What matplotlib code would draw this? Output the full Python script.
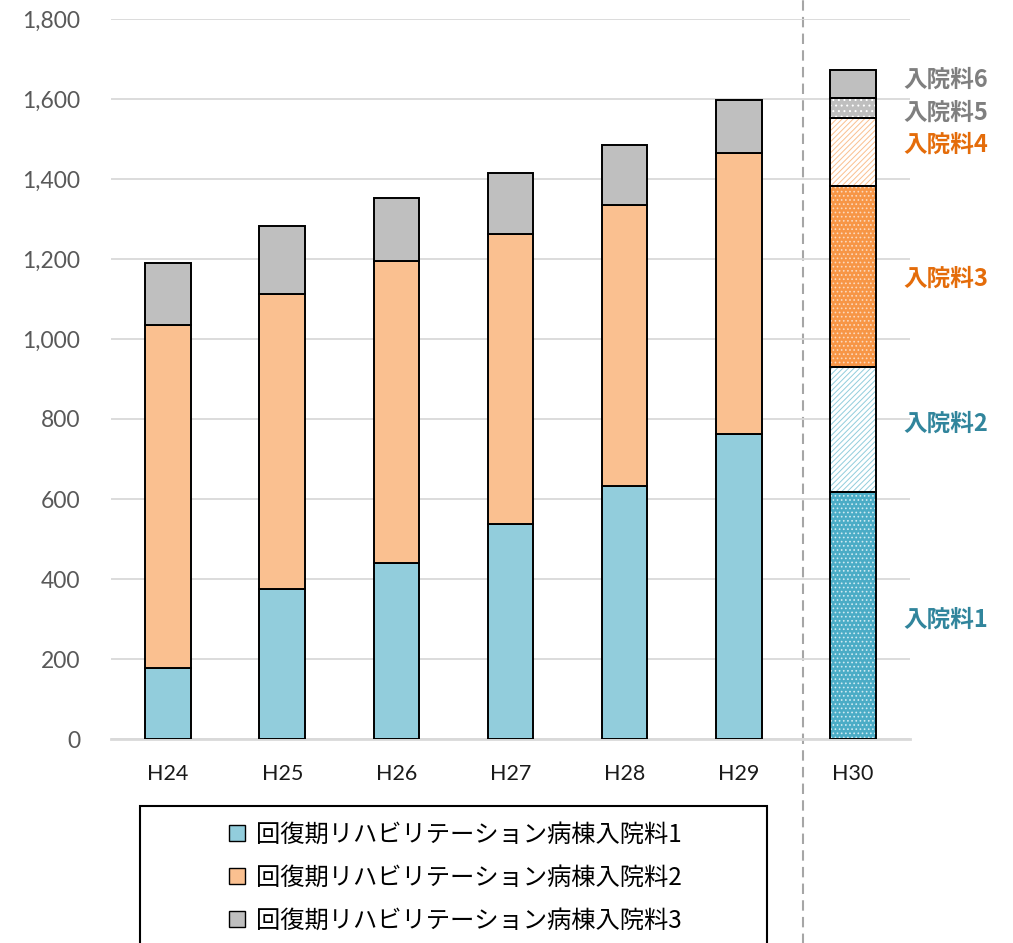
import matplotlib.pyplot as plt
import numpy as np
from matplotlib.patches import Patch, Rectangle

plt.rcParams['font.family'] = ['Noto Sans CJK JP', 'DejaVu Sans']

# ---- data -------------------------------------------------------------
years = ['H24', 'H25', 'H26', 'H27', 'H28', 'H29', 'H30']
fee1 = [178, 375, 440, 538, 633, 763]
fee2 = [857, 738, 755, 725, 702, 702]
fee3 = [155, 170, 158, 152, 150, 133]

h30_labels = ['入院料1', '入院料2', '入院料3', '入院料4', '入院料5', '入院料6']
h30_values = [618, 312, 453, 170, 50, 70]

legend_labels = ['回復期リハビリテーション病棟入院料1',
                 '回復期リハビリテーション病棟入院料2',
                 '回復期リハビリテーション病棟入院料3']
yticks = [0, 200, 400, 600, 800, 1000, 1200, 1400, 1600, 1800]

# ---- styles -----------------------------------------------------------
c_blue, c_orange, c_gray = '#92CDDC', '#FAC090', '#BFBFBF'
# (face, hatch, hatch colour, label colour) for each H30 segment
h30_styles = [
    ('#4BACC6', '....', '#CFEAF2', '#31859C'),
    ('white', '//////', '#92CDDC', '#31859C'),
    ('#F79646', '....', '#FBD9BE', '#E46C0A'),
    ('white', '//////', '#FAC090', '#E46C0A'),
    ('#BFBFBF', '...', 'white', '#7F7F7F'),
    ('#BFBFBF', None, None, '#7F7F7F'),
]
label_offsets = [-12, 13, -5, 18, -12, 10]
bar_w = 0.4
edge_lw = 1.4
plt.rcParams['hatch.linewidth'] = 0.7

fig = plt.figure(figsize=(10.13, 9.43), dpi=100)
ax = fig.add_axes([0.1096, 0.2163, 0.7887, 0.7636])

x = np.arange(len(years))
xh = x[:-1]
b2 = np.array(fee1)
b3 = b2 + np.array(fee2)
ax.bar(xh, fee1, bar_w, color=c_blue, edgecolor='black', linewidth=edge_lw, zorder=3)
ax.bar(xh, fee2, bar_w, bottom=b2, color=c_orange, edgecolor='black', linewidth=edge_lw, zorder=3)
ax.bar(xh, fee3, bar_w, bottom=b3, color=c_gray, edgecolor='black', linewidth=edge_lw, zorder=3)

# H30 stacked segments with patterned fills
bottom = 0
x30 = x[-1]
for val, lab, (face, hatch, hcol, tcol), off in zip(h30_values, h30_labels, h30_styles, label_offsets):
    ax.bar(x30, val, bar_w, bottom=bottom, color=face, hatch=hatch,
           edgecolor=hcol if hcol else face, linewidth=0, zorder=3)
    ax.bar(x30, val, bar_w, bottom=bottom, facecolor='none',
           edgecolor='black', linewidth=edge_lw, zorder=4)
    ax.text(x30 + 0.44, bottom + val / 2 + off, lab, color=tcol, fontsize=17,
            fontweight='bold', ha='left', va='center', clip_on=False)
    bottom += val

ax.set_xlim(-0.5, 6.5)
ax.set_ylim(0, 1800)
ax.set_yticks(yticks)
ax.set_yticklabels([f'{v:,}' for v in yticks])
ax.set_xticks(x)
ax.set_xticklabels(years)
ax.grid(axis='y', color='#D9D9D9', linewidth=1.3, zorder=0)
for s in ['top', 'right', 'left']:
    ax.spines[s].set_visible(False)
ax.spines['bottom'].set_color('#D9D9D9')
ax.spines['bottom'].set_linewidth(2)
ax.tick_params(axis='both', length=0)
ax.tick_params(axis='y', pad=22, labelsize=16.5, labelcolor='#595959')
ax.tick_params(axis='x', pad=18, labelsize=15.5, labelcolor='#1A1A1A')
for t in ax.get_yticklabels() + ax.get_xticklabels():
    t.set_fontfamily(['Lato', 'DejaVu Sans'])

# dashed separator before H30
ax.axvline(5.56, ymin=-0.285, ymax=1.03, color='#A6A6A6', linestyle=(0, (5, 3)),
           linewidth=1.5, clip_on=False, zorder=1)

# legend
handles = [Patch(facecolor=c, edgecolor='black', linewidth=1.0) for c in (c_blue, c_orange, c_gray)]
fig.legend(handles, legend_labels, loc='upper left', bbox_to_anchor=(0.226, 0.129),
           frameon=False, fontsize=17.5, handlelength=0.65, handleheight=0.65,
           handletextpad=0.45, labelspacing=0.7, borderpad=0, borderaxespad=0)
fig.patches.append(Rectangle((140 / 1013, -0.05), 627 / 1013, 0.05 + 1 - 806 / 943,
                             transform=fig.transFigure, facecolor='none',
                             edgecolor='black', linewidth=1.5))

fig.savefig('out.png', dpi=100)
